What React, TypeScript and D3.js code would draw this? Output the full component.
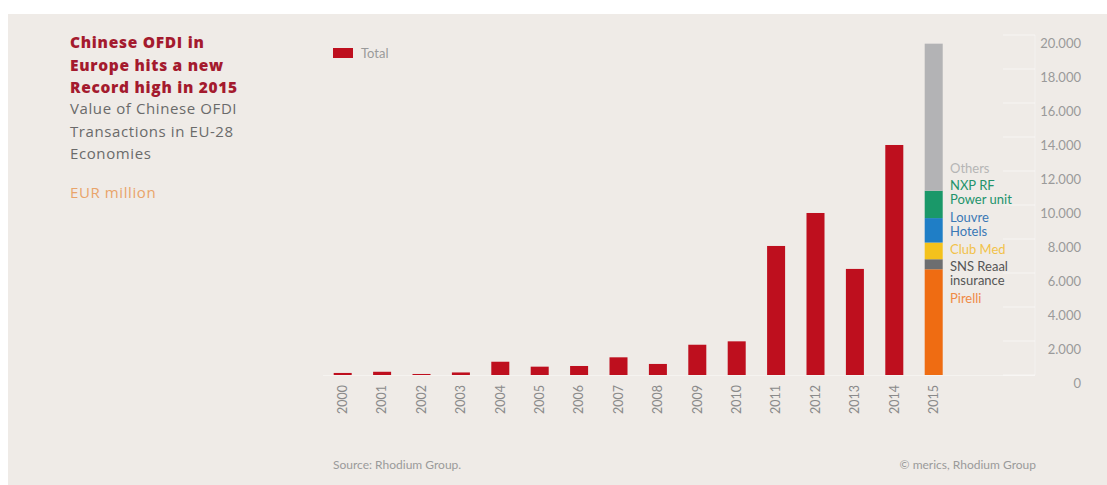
import React from "react";
import * as d3 from "d3";

const years = ["2000","2001","2002","2003","2004","2005","2006","2007","2008","2009","2010","2011","2012","2013","2014","2015"];
const totals = [120, 190, 60, 150, 780, 490, 530, 1040, 650, 1780, 1980, 7590, 9530, 6240, 13530, 0];
const deals2015 = ["Pirelli", "SNS Reaal insurance", "Club Med", "Louvre Hotels", "NXP RF Power unit", "Others"];
const deals2015Values = [6220, 590, 980, 1440, 1610, 8650];
const dealColors = ["#ef6c12", "#6d6e70", "#f4c21c", "#1f7ec6", "#1a9869", "#b3b3b5"];
const dealLabelLines = [["Pirelli"], ["SNS Reaal", "insurance"], ["Club Med"], ["Louvre", "Hotels"], ["NXP RF", "Power unit"], ["Others"]];
const dealLabelColors = ["#ef8a45", "#555555", "#f2c24a", "#3b78b5", "#23936c", "#b5b5b5"];
const yTicks = [0, 2000, 4000, 6000, 8000, 10000, 12000, 14000, 16000, 18000, 20000];

const W = 1107, H = 485;
const FONT = "Lato, 'Open Sans', sans-serif";
const TFONT = "'Open Sans', Lato, sans-serif";

export default function App() {
  const x = d3.scaleBand<string>().domain(years).range([323, 953.4]).paddingInner(0.543).paddingOuter(0.2715);
  const y = d3.scaleLinear().domain([0, 20000]).range([375, 35]);
  const fmt = (v: number) => (v === 0 ? "0" : d3.format(",")(v).replace(",", "."));

  const stack = deals2015Values.reduce<{ y0: number; y1: number }[]>((acc, v) => {
    const y0 = acc.length ? acc[acc.length - 1].y1 : 0;
    acc.push({ y0, y1: y0 + v });
    return acc;
  }, []);

  const labelY = [298, 266, 249, 217, 185, 168];

  return (
    <svg width={W} height={H} style={{ display: "block", position: "absolute", left: 0, top: 0 }}>
      <rect x={0} y={0} width={W} height={H} fill="#ffffff" />
      <rect x={8} y={14} width={W - 8} height={H - 14} fill="#efebe7" />

      {/* title block */}
      <g fontFamily={TFONT}>
        {["Chinese OFDI in", "Europe hits a new", "Record high in 2015"].map((t, i) => (
          <text key={t} x={70} y={43 + i * 22.5} dy="0.35em" fontSize={15.5} letterSpacing={0.7} fontWeight={800} fill="#a41a2e">{t}</text>
        ))}
        {["Value of Chinese OFDI", "Transactions in EU-28", "Economies"].map((t, i) => (
          <text key={t} x={70} y={109 + i * 22.5} dy="0.35em" fontSize={15} letterSpacing={0.6} fill="#6a6a6a">{t}</text>
        ))}
        <text x={70} y={193} dy="0.35em" fontSize={15} letterSpacing={0.6} fill="#e9a46a">EUR million</text>
      </g>

      {/* faint grid ticks */}
      <g stroke="#ffffff" strokeOpacity={0.5}>
        {yTicks.map((t) => (
          <line key={t} x1={1003} x2={1035} y1={y(t)} y2={y(t)} />
        ))}
        <line x1={1035} x2={1035} y1={y(20000)} y2={y(0)} strokeOpacity={0.35} />
        <line x1={323} x2={1035} y1={y(0) + 0.5} y2={y(0) + 0.5} strokeOpacity={0.4} />
      </g>

      {/* y axis labels */}
      <g fontFamily={FONT} fontSize={13} fill="#9a9a9a" textAnchor="end">
        {yTicks.map((t) => (
          <text key={t} x={1081} y={y(t) + 8} dy="0.35em">{fmt(t)}</text>
        ))}
      </g>

      {/* bars */}
      {years.map((yr, i) =>
        totals[i] > 0 ? (
          <rect key={yr} x={x(yr)} y={y(totals[i])} width={x.bandwidth()} height={y(0) - y(totals[i])} fill="#be0f1e" />
        ) : null
      )}

      {/* 2015 stacked */}
      {stack.map((s, i) => (
        <rect key={deals2015[i]} x={x("2015")} y={y(s.y1)} width={x.bandwidth()} height={y(s.y0) - y(s.y1)} fill={dealColors[i]} />
      ))}

      {/* 2015 labels */}
      <g fontFamily={FONT} fontSize={13}>
        {dealLabelLines.map((lines, i) =>
          lines.map((l, j) => (
            <text key={deals2015[i] + j} x={950} y={labelY[i] + j * 14.5} dy="0.35em" fill={dealLabelColors[i]}>{l}</text>
          ))
        )}
      </g>

      {/* x axis labels */}
      <g fontFamily={FONT} fontSize={12.5} fill="#8a8a8a" textAnchor="end">
        {years.map((yr) => {
          const cx = (x(yr) as number) + x.bandwidth() / 2;
          return (
            <text key={yr} transform={`translate(${cx},385) rotate(-90)`} dy="0.35em">{yr}</text>
          );
        })}
      </g>

      {/* legend */}
      <rect x={333} y={48} width={20} height={10} fill="#be0f1e" />
      <text x={361} y={53} dy="0.35em" fontFamily={FONT} fontSize={13} fill="#9a9a9a">Total</text>

      {/* footer */}
      <text x={333} y={465} dy="0.35em" fontFamily={FONT} fontSize={12} fill="#9a9a9a">Source: Rhodium Group.</text>
      <text x={1036} y={465} dy="0.35em" textAnchor="end" fontFamily={FONT} fontSize={12} fill="#9a9a9a">© merics, Rhodium Group</text>
    </svg>
  );
}
